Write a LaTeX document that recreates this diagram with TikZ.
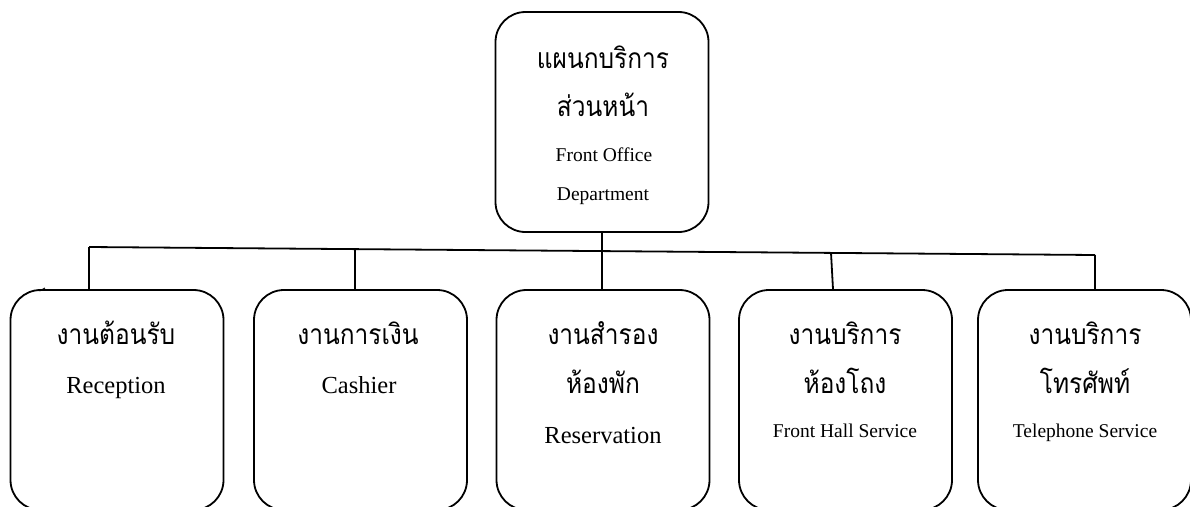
\documentclass[tikz,border=0pt]{standalone}
\usepackage{fontspec}
\usetikzlibrary{calc}
\setmainfont{Liberation Serif}
\newfontfamily\thai[Script=Thai]{Loma}
\newcommand{\thtxt}[1]{\scalebox{1}[1.15]{#1}}
\begin{document}
\begin{tikzpicture}[x=1pt,y=-1pt,
  box/.style={draw,line width=1.8pt,rounded corners=30pt,minimum width=213pt,minimum height=220pt,inner sep=0pt},
  conn/.style={line width=1.8pt},
  th/.style={inner sep=0pt,anchor=base,font=\thai\fontsize{24.5}{24.5}\selectfont},
  en/.style={inner sep=0pt,anchor=base,font=\fontsize{24.5}{24.5}\selectfont},
  ens/.style={inner sep=0pt,anchor=base,font=\fontsize{19.5}{19.5}\selectfont}]
\useasboundingbox (0,0) rectangle (1190,506);
\clip (0,0) rectangle (1190,506);
% boxes
\node[box] (top) at (602,122) {};
\node[box] (b1) at (117,400) {};
\node[box] (b2) at (360.5,400) {};
\node[box] (b3) at (603,400) {};
\node[box] (b4) at (845.5,400) {};
\node[box] (b5) at (1084.5,400) {};
% texts
\node[th] (t1) at (603,68) {\thtxt{แผนกบริการ}};
\node[th] (t2) at (603,116) {\thtxt{ส่วนหน้า}};
\node[ens] (t3) at (604,161) {Front Office};
\node[ens] (t4) at (603,200) {Department};
\node[th] (a1) at (116,344) {\thtxt{งานต้อนรับ}};
\node[en] (a2) at (116,393) {Reception};
\node[th] (c1) at (358,344) {\thtxt{งานการเงิน}};
\node[en] (c2) at (359,393) {Cashier};
\node[th] (r1) at (603,344) {\thtxt{งานสำรอง}};
\node[th] (r2) at (603,393) {\thtxt{ห้องพัก}};
\node[en] (r3) at (603,443) {Reservation};
\node[th] (h1) at (845,344) {\thtxt{งานบริการ}};
\node[th] (h2) at (845,393) {\thtxt{ห้องโถง}};
\node[ens] (h3) at (845,437) {Front Hall Service};
\node[th] (p1) at (1085,344) {\thtxt{งานบริการ}};
\node[th] (p2) at (1085,393) {\thtxt{โทรศัพท์}};
\node[ens] (p3) at (1085,437) {Telephone Service};
% connectors
\coordinate (bL) at (89,247);
\coordinate (bR) at (1095,255);
\coordinate (j2) at (355,249.1);
\coordinate (j4) at (831,252.9);
\draw[conn] (bL) -- (bR);
\draw[conn] (bL) -- (bL |- b1.north);
\draw[conn] (j2) -- (j2 |- b2.north);
\draw[conn] (top.south) -- (top.south |- b3.north);
\draw[conn] (j4) -- ($(j4 |- b4.north)+(2,0)$);
\draw[conn] (bR) -- (bR |- b5.north);
\draw[line width=1pt] (39.5,291) -- (45,288);
\end{tikzpicture}
\end{document}
